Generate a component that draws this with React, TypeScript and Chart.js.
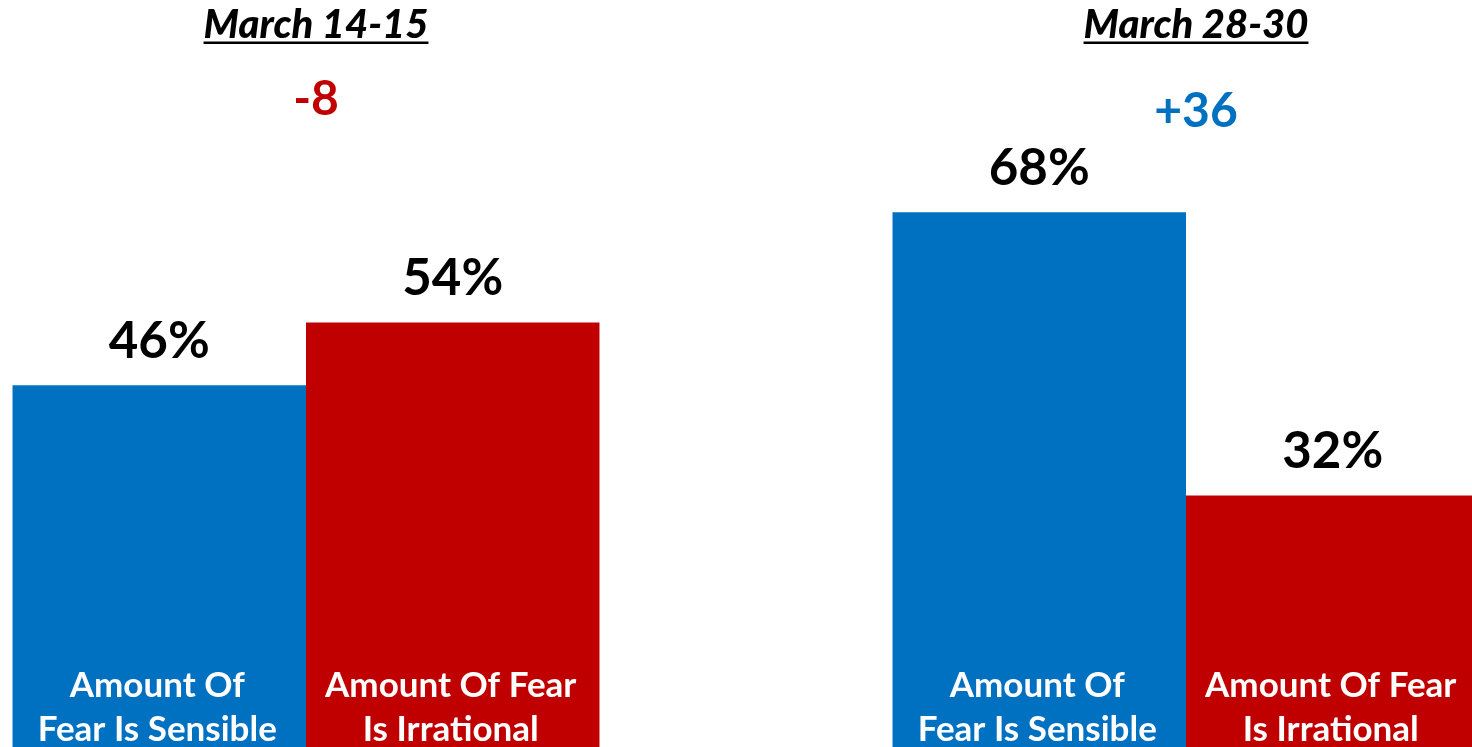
import React, { useEffect, useRef } from "react";
import { Chart, registerables } from "chart.js";

Chart.register(...registerables);

// ---- data ----
const periods = ["March 14-15", "March 28-30"];
const sensible = [46, 68];
const irrational = [54, 32];
const sensibleLabel = ["Amount Of", "Fear Is Sensible"];
const irrationalLabel = ["Amount Of Fear", "Is Irrational"];

const BLUE = "#0070C0";
const RED = "#C00000";
const FONT = "Lato, 'Open Sans', sans-serif";

const labelPlugin = {
  id: "customLabels",
  afterDatasetsDraw(chart: any) {
    const ctx = chart.ctx as CanvasRenderingContext2D;
    const xScale = chart.scales.x;
    const bottom = chart.chartArea.bottom;
    ctx.save();
    ctx.textAlign = "center";
    ctx.textBaseline = "alphabetic";

    chart.data.datasets.forEach((ds: any, di: number) => {
      const meta = chart.getDatasetMeta(di);
      const lines: string[] = ds.seriesLines;
      meta.data.forEach((bar: any, i: number) => {
        const v = ds.data[i];
        ctx.font = `bold 51px ${FONT}`;
        ctx.fillStyle = "#000000";
        ctx.fillText(`${v}%`, bar.x, bar.y - 27);

        ctx.font = `bold 35px ${FONT}`;
        ctx.fillStyle = "#FFFFFF";
        lines.forEach((ln, li) => {
          ctx.fillText(ln, bar.x - 2, bottom - 50 + li * 44);
        });
      });
    });

    const netBaselines = [115, 127];
    periods.forEach((p, i) => {
      const cx = xScale.getPixelForValue(i) + 10;
      // title
      ctx.font = `italic 900 40px ${FONT}`;
      ctx.fillStyle = "#000000";
      ctx.fillText(p, cx, 38);
      const w = ctx.measureText(p).width;
      ctx.fillRect(cx - w / 2, 41.5, w, 2.5);

      // net difference
      const net = sensible[i] - irrational[i];
      const netText = net > 0 ? `+${net}` : `${net}`;
      ctx.font = `bold 48px ${FONT}`;
      ctx.fillStyle = net > 0 ? BLUE : RED;
      ctx.fillText(netText, cx, netBaselines[i]);
    });
    ctx.restore();
  },
};

export default function App() {
  const canvasRef = useRef<HTMLCanvasElement | null>(null);

  useEffect(() => {
    document.body.style.margin = "0";
    const canvas = canvasRef.current;
    if (!canvas) return;
    const chart = new Chart(canvas, {
      type: "bar",
      data: {
        labels: periods,
        datasets: [
          {
            label: sensibleLabel.join(" "),
            data: sensible,
            backgroundColor: BLUE,
            borderWidth: 0,
            categoryPercentage: 0.667,
            barPercentage: 1.0,
            seriesLines: sensibleLabel,
          } as any,
          {
            label: irrationalLabel.join(" "),
            data: irrational,
            backgroundColor: RED,
            borderWidth: 0,
            categoryPercentage: 0.667,
            barPercentage: 1.0,
            seriesLines: irrationalLabel,
          } as any,
        ],
      },
      options: {
        animation: false,
        responsive: false,
        maintainAspectRatio: false,
        devicePixelRatio: 1,
        layout: { padding: 0 },
        plugins: {
          legend: { display: false },
          tooltip: { enabled: false },
          title: { display: false },
        },
        scales: {
          x: { display: false, offset: true },
          y: { display: false, min: 0, max: 95 },
        },
      },
      plugins: [labelPlugin],
    });
    if ((document as any).fonts && (document as any).fonts.load) {
      Promise.all([
        document.fonts.load(`bold 52px Lato`),
        document.fonts.load(`italic 900 40px Lato`),
      ])
        .then(() => chart.update())
        .catch(() => {});
    }
    return () => chart.destroy();
  }, []);

  return (
    <div
      style={{
        position: "absolute",
        left: 0,
        top: 0,
        width: 1472,
        height: 747,
        overflow: "hidden",
        background: "#FFFFFF",
      }}
    >
      <canvas
        ref={canvasRef}
        width={1760}
        height={747}
        style={{ position: "absolute", left: -134, top: 0, width: 1760, height: 747 }}
      />
    </div>
  );
}
